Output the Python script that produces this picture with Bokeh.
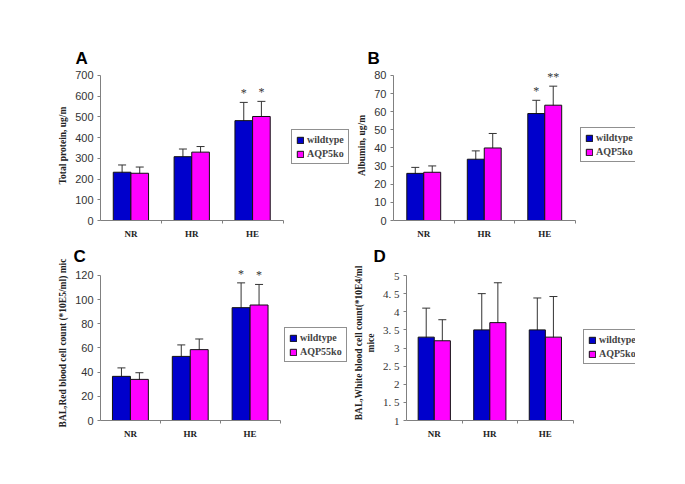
from bokeh.plotting import figure
from bokeh.layouts import column, row
from bokeh.models import (Range1d, FixedTicker, Whisker, ColumnDataSource, Legend,
                          LegendItem, Title, TeeHead, CustomJSTickFormatter)
from bokeh.embed import file_html
from bokeh.resources import INLINE
from bokeh.core.properties import value

categories = ["NR", "HR", "HE"]

a_wt = [233, 308, 482]
a_wt_err = [35, 37, 88]
a_ko = [228, 330, 502]
a_ko_err = [30, 27, 73]
a_wt_sig = ["", "", "*"]
a_ko_sig = ["", "", "*"]

b_wt = [26.0, 33.8, 59.0]
b_wt_err = [3.3, 4.6, 7.3]
b_ko = [26.6, 40.0, 63.6]
b_ko_err = [3.5, 8.0, 10.5]
b_wt_sig = ["", "", "*"]
b_ko_sig = ["", "", "**"]

c_wt = [36.5, 53.0, 93.3]
c_wt_err = [7.0, 9.5, 20.5]
c_ko = [34.0, 58.6, 95.5]
c_ko_err = [5.5, 8.8, 17.0]
c_wt_sig = ["", "", "*"]
c_ko_sig = ["", "", "*"]

d_wt = [3.3, 3.5, 3.5]
d_wt_err = [0.8, 1.0, 0.88]
d_ko = [3.2, 3.7, 3.3]
d_ko_err = [0.58, 1.1, 1.12]
d_wt_sig = ["", "", ""]
d_ko_sig = ["", "", ""]

d_tick_values = [1, 1.5, 2, 2.5, 3, 3.5, 4, 4.5, 5]
d_tick_text = ["1", "1. 5", "2", "2. 5", "3", "3. 5", "4", "4. 5", "5"]

BLUE = "#0000CC"
MAGENTA = "#FF00FF"
AXIS = "#808080"
SERIF = "Liberation Serif"
SANS = "Liberation Sans"


def panel(letter, wt, wt_err, ko, ko_err, wt_sig, ko_sig, ko_name, ymin, ymax, ystep,
          ylabel, geom, bar_w, leg_xy, letter_off, letter_standoff, tick_font=SANS,
          tick_values=None, tick_text=None):
    # geom: figure box and frame/axis pixel positions
    (fig_x0, fig_x1, fig_y0, fig_y1, fx0, fx1, ax_right, fy0, y_top, y_bot) = geom
    n_cat = len(categories)
    idx = list(range(1, n_cat + 1))
    ppu_x = (ax_right - fx0) / n_cat
    x_end = 0.5 + (fx1 - fx0) / ppu_x
    y_end = ymax + (y_top - fy0) * (ymax - ymin) / (y_bot - y_top)
    p = figure(width=fig_x1 - fig_x0, height=fig_y1 - fig_y0,
               x_range=Range1d(0.5, x_end), y_range=Range1d(ymin, y_end),
               output_backend="svg", toolbar_location=None,
               min_border_left=fx0 - fig_x0, min_border_right=fig_x1 - fx1,
               min_border_top=fy0 - fig_y0, min_border_bottom=fig_y1 - y_bot)
    p.outline_line_color = None
    p.xgrid.visible = False
    p.ygrid.visible = False
    p.background_fill_color = "white"
    p.border_fill_color = "white"

    renderers = []
    for vals, errs, sig, col, off in ((wt, wt_err, wt_sig, BLUE, -bar_w / 2),
                                      (ko, ko_err, ko_sig, MAGENTA, bar_w / 2)):
        xs = [i + off for i in idx]
        src = ColumnDataSource(dict(x=xs, top=vals,
                                    upper=[v + e for v, e in zip(vals, errs)],
                                    lower=[v - e for v, e in zip(vals, errs)],
                                    sig=sig))
        r = p.vbar(x="x", top="top", bottom=ymin, width=bar_w, source=src,
                   fill_color=col, line_color="#111111", line_width=1)
        renderers.append(r)
        w = Whisker(base="x", upper="upper", lower="lower", source=src,
                    line_color="#333333", line_width=1,
                    upper_head=TeeHead(size=8, line_color="#333333", line_width=1),
                    lower_head=TeeHead(size=8, line_color="#333333", line_width=1))
        p.add_layout(w)
        p.text(x="x", y="upper", text="sig", source=src, text_align="center",
               text_baseline="middle", y_offset=-9, text_font=value(SERIF),
               text_font_size="12px", text_color="#333333")

    leg = Legend(items=[LegendItem(label="wildtype", renderers=[renderers[0]]),
                        LegendItem(label=ko_name, renderers=[renderers[1]])],
                 location=leg_xy, border_line_color="#222222", border_line_width=1,
                 label_text_font=SERIF, label_text_font_style="bold",
                 label_text_font_size="10px", glyph_width=8, glyph_height=8,
                 padding=4, spacing=3, label_standoff=3, margin=0,
                 label_height=11,
                 background_fill_color="white", background_fill_alpha=1)
    p.add_layout(leg)

    p.add_layout(Title(text=letter, align="left", offset=letter_off,
                       standoff=letter_standoff,
                       text_font=SANS, text_font_style="bold", text_font_size="17px",
                       text_color="black"), "above")

    # x axis
    xa = p.xaxis[0]
    xa.ticker = FixedTicker(ticks=idx, minor_ticks=[i + 0.5 for i in idx])
    xa.bounds = (0.5, n_cat + 0.5)
    xa.major_label_overrides = {i: c for i, c in zip(idx, categories)}
    xa.major_tick_line_color = None
    xa.major_tick_out = 0
    xa.major_tick_in = 0
    xa.minor_tick_out = 3
    xa.minor_tick_in = 0
    xa.minor_tick_line_color = AXIS
    xa.axis_line_color = AXIS
    xa.major_label_standoff = 5
    xa.major_label_text_font = SERIF
    xa.major_label_text_font_style = "bold"
    xa.major_label_text_font_size = "9px"
    xa.major_label_text_color = "#222222"

    # y axis
    ya = p.yaxis[0]
    n = int(round((ymax - ymin) / ystep))
    ya.ticker = FixedTicker(ticks=[ymin + k * ystep for k in range(n + 1)])
    ya.bounds = (ymin, ymax)
    if tick_values:
        ya.formatter = CustomJSTickFormatter(
            args=dict(vals=tick_values, txt=tick_text),
            code="for (let i = 0; i < vals.length; i++) {"
                 " if (Math.abs(vals[i] - tick) < 1e-6) return txt[i]; }"
                 " return String(tick);")
    ya.axis_line_color = AXIS
    ya.major_tick_line_color = AXIS
    ya.major_tick_out = 3
    ya.major_tick_in = 0
    ya.minor_tick_line_color = None
    ya.major_label_standoff = 4
    ya.major_label_text_font = tick_font
    ya.major_label_text_font_size = "11px"
    ya.major_label_text_color = "#333333"
    ya.axis_label = ylabel
    ya.axis_label_text_font = SERIF
    ya.axis_label_text_font_style = "bold"
    ya.axis_label_text_font_size = "9.5px"
    ya.axis_label_text_color = "#222222"
    ya.axis_label_standoff = 4
    return p


#        fig x0, x1, y0, y1, frame x0, x1, axis-right, frame top, top tick, bottom
geom_a = (0, 350, 0, 241, 100, 350, 282.5, 70, 75, 221)
geom_b = (350, 635, 0, 241, 393, 635, 574.5, 70, 75, 221)
geom_c = (0, 350, 241, 451, 100, 350, 279.5, 265, 275, 422)
geom_d = (350, 635, 241, 451, 400, 635, 571, 265, 275, 420)

pA = panel("A", a_wt, a_wt_err, a_ko, a_ko_err, a_wt_sig, a_ko_sig, "AQP5ko", 0, 700, 100,
           "Total protein, ug/m", geom_a, 0.29, (191, 56), -25, 5)
pB = panel("B", b_wt, b_wt_err, b_ko, b_ko_err, b_wt_sig, b_ko_sig, "AQP5ko", 0, 80, 10,
           "Albumin, ug/m", geom_b, 0.28, (187, 58), -26, 5)
pC = panel("C", c_wt, c_wt_err, c_ko, c_ko_err, c_wt_sig, c_ko_sig, "AQP55ko", 0, 120, 20,
           "BAL,Red blood cell count (*10E5/ml) mic", geom_c, 0.30, (184, 58), -27, 0)
pD = panel("D", d_wt, d_wt_err, d_ko, d_ko_err, d_wt_sig, d_ko_sig, "AQP5ko", 1, 5, 0.5,
           "BAL,White blood cell count(*10E4/ml\nmice", geom_d, 0.29, (177, 56), -33, 0,
           tick_font=SERIF, tick_values=d_tick_values, tick_text=d_tick_text)

layout = column(row(pA, pB), row(pC, pD))
open("out.html", "w").write(file_html(layout, INLINE))
